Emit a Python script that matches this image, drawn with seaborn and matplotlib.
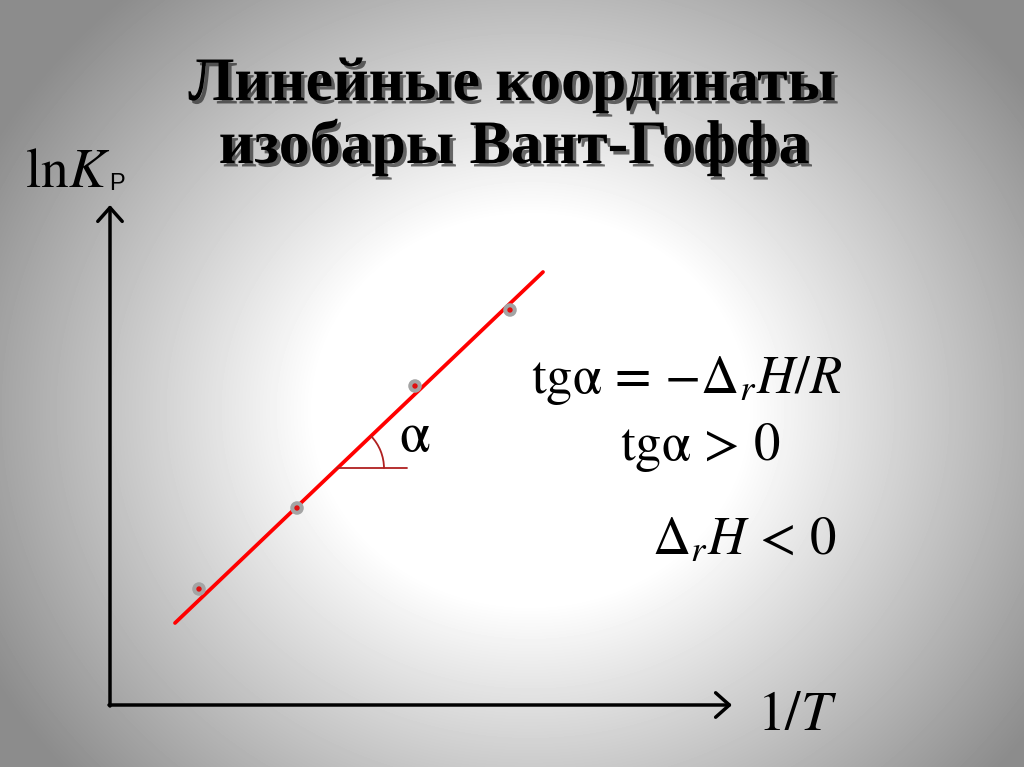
import numpy as np
import matplotlib
matplotlib.use("Agg")
import matplotlib.pyplot as plt
import matplotlib.patheffects as pe
from matplotlib.patches import Arc
import seaborn as sns

# ---- data ----
title_lines = ["Линейные координаты", "изобары Вант-Гоффа"]
inv_T = [0.89, 1.87, 3.05, 4.00]        # 1/T (arbitrary units)
ln_Kp = [1.16, 1.97, 3.19, 3.95]        # lnKp (arbitrary units)
fit_x = [0.65, 4.33]                    # straight line through the points
fit_y = [0.82, 4.33]
angle_x0 = 2.27                         # where the angle alpha is marked
angle_x1 = 2.97
x_label = r"$1/T$"
y_label = r"$\mathrm{ln}K$"
y_label_sub = "P"
eq1 = r"$\mathrm{tg\alpha}\,=\,{-}\Delta_{r}H/R$"
eq2 = r"$\mathrm{tg\alpha}\,>\,0$"
eq3 = r"$\Delta_{r}H\,<\,0$"
alpha_lbl = r"$\mathrm{\alpha}$"

W, H = 1024, 767
sns.set_theme(style="white")
plt.rcParams["mathtext.fontset"] = "stix"
plt.rcParams["font.family"] = ["Liberation Serif", "DejaVu Serif"]
plt.rcParams["text.color"] = "black"

fig = plt.figure(figsize=(W / 100, H / 100), dpi=100)

# ---- radial gradient background ----
bg = fig.add_axes([0, 0, 1, 1], zorder=0)
yy, xx = np.mgrid[0:H, 0:W]
r = np.sqrt(((xx - 530) / 600.0) ** 2 + ((yy - 410) / 540.0) ** 2)
grad = 1.0 - 0.45 * np.clip((r - 0.36) / 0.66, 0, 1)
bg.imshow(grad, cmap="gray", vmin=0, vmax=1, aspect="auto",
          extent=[0, 1, 0, 1], origin="upper")
bg.set_axis_off()

# ---- main axes ----
ax = fig.add_axes([110 / W, (H - 705) / H, 618 / W, 500 / H], zorder=1)
ax.set_xlim(0, 6.18)
ax.set_ylim(0, 5.0)
ax.patch.set_alpha(0)
for s in ax.spines.values():
    s.set_visible(False)
ax.set_xticks([])
ax.set_yticks([])
ax.set_xlabel("")
ax.set_ylabel("")

arrow_kw = dict(arrowstyle="->,head_length=0.45,head_width=0.4", lw=2.5,
                color="black", mutation_scale=22, shrinkA=0, shrinkB=0)
ax.annotate("", xy=(6.22, 0), xytext=(-0.01, 0), arrowprops=arrow_kw,
            annotation_clip=False)
ax.annotate("", xy=(0, 5.0), xytext=(0, -0.01), arrowprops=arrow_kw,
            annotation_clip=False)

# fitted line and points
sns.lineplot(x=fit_x, y=fit_y, color="#ff0000", lw=2.7, ax=ax, zorder=2)
sns.scatterplot(x=inv_T, y=ln_Kp, s=95, color="#a4a4a4", edgecolor="none",
                ax=ax, zorder=3)
sns.scatterplot(x=inv_T, y=ln_Kp, s=15, color="#e01010", edgecolor="none",
                ax=ax, zorder=4)

# angle alpha
slope = (fit_y[1] - fit_y[0]) / (fit_x[1] - fit_x[0])
vy = fit_y[0] + slope * (angle_x0 - fit_x[0])
ang = np.degrees(np.arctan(slope))
ax.plot([angle_x0, angle_x1], [vy, vy], color="#b02020", lw=1.3, zorder=2)
ax.add_patch(Arc((angle_x0, vy), 0.94, 0.94, theta1=0, theta2=ang,
                 color="#b02020", lw=1.3, zorder=2))
ax.text(angle_x0 + 0.62, vy + 0.17, alpha_lbl, fontsize=40, ha="left",
        va="baseline", color="black")

# ---- texts ----
def px(x, y):
    return x / W, 1 - y / H

shadow = [pe.withSimplePatchShadow(offset=(2.5, -2.5), shadow_rgbFace="#202020",
                                   alpha=0.65)]
fig.text(*px(512, 100), title_lines[0], fontsize=44.5, fontweight="bold",
         ha="center", va="baseline", color="black", path_effects=shadow,
         zorder=5)
fig.text(*px(514, 163), title_lines[1], fontsize=44.5, fontweight="bold",
         ha="center", va="baseline", color="black", path_effects=shadow,
         zorder=5)

fig.text(*px(25, 187), y_label, fontsize=40, ha="left", va="baseline", zorder=5)
fig.text(*px(109, 190), y_label_sub, fontsize=17, ha="left", va="baseline",
         family=["Liberation Sans", "DejaVu Sans"], zorder=5)
fig.text(*px(757, 730), x_label, fontsize=40, ha="left", va="baseline", zorder=5)

fig.text(*px(531, 393), eq1, fontsize=38, ha="left", va="baseline", zorder=5)
fig.text(*px(620, 460), eq2, fontsize=38, ha="left", va="baseline", zorder=5)
fig.text(*px(652, 555), eq3, fontsize=38, ha="left", va="baseline", zorder=5)

fig.savefig("out.png", dpi=100)
